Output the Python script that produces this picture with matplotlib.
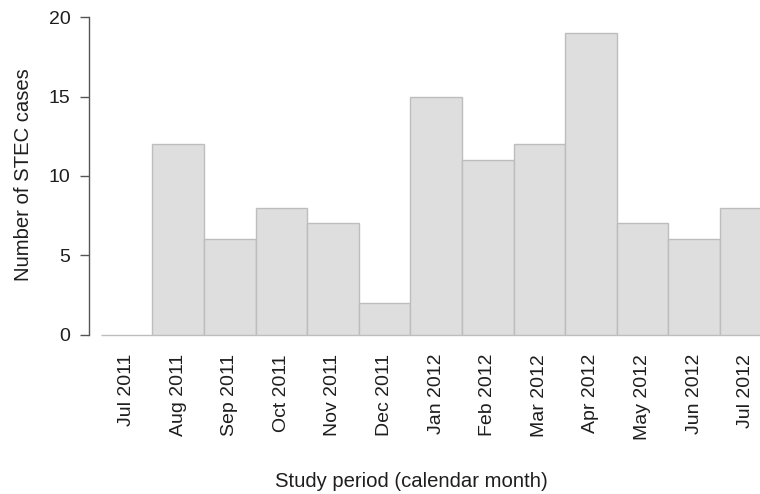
import matplotlib
matplotlib.use('Agg')
import matplotlib.pyplot as plt
import numpy as np

months = ["Jul 2011", "Aug 2011", "Sep 2011", "Oct 2011", "Nov 2011", "Dec 2011",
          "Jan 2012", "Feb 2012", "Mar 2012", "Apr 2012", "May 2012", "Jun 2012",
          "Jul 2012"]
cases = [0, 12, 6, 8, 7, 2, 15, 11, 12, 19, 7, 6, 8]

plt.rcParams['font.family'] = ['Liberation Sans', 'DejaVu Sans']
txt = '#1e1e1e'

fig = plt.figure(figsize=(7.6, 4.94), dpi=100)
ax = fig.add_axes([89/760, (494-334.5)/494, (760-89)/760, (334.5-17.3)/494])

x = np.arange(len(months))
bars = ax.bar(x, cases, width=1.0, color='#dedede', edgecolor='#bdbdbd', linewidth=1.0)
for b in bars:
    b.set_clip_on(False)

ax.set_xlim(-0.727, 12.277)
ax.set_ylim(0, 20)
ax.set_yticks([0, 5, 10, 15, 20])
ax.set_xticks(x)
ax.set_xticklabels(months, rotation=90, va='top', ha='center')

for s in ['top', 'right', 'bottom']:
    ax.spines[s].set_visible(False)
ax.spines['left'].set_color('#555555')
ax.spines['left'].set_linewidth(1.0)

ax.tick_params(axis='y', length=6.5, width=1.0, color='#555555', pad=7,
               labelsize=14, labelcolor=txt)
ax.tick_params(axis='x', length=0, pad=14, labelsize=14, labelcolor=txt)

fig.text(24/760, 1 - 175/494, "Number of STEC cases", rotation=90,
         ha='center', va='center', fontsize=14.6, color=txt)
fig.text(411/760, 1 - 481/494, "Study period (calendar month)",
         ha='center', va='center', fontsize=14.6, color=txt)

plt.savefig("out.png", dpi=100)
